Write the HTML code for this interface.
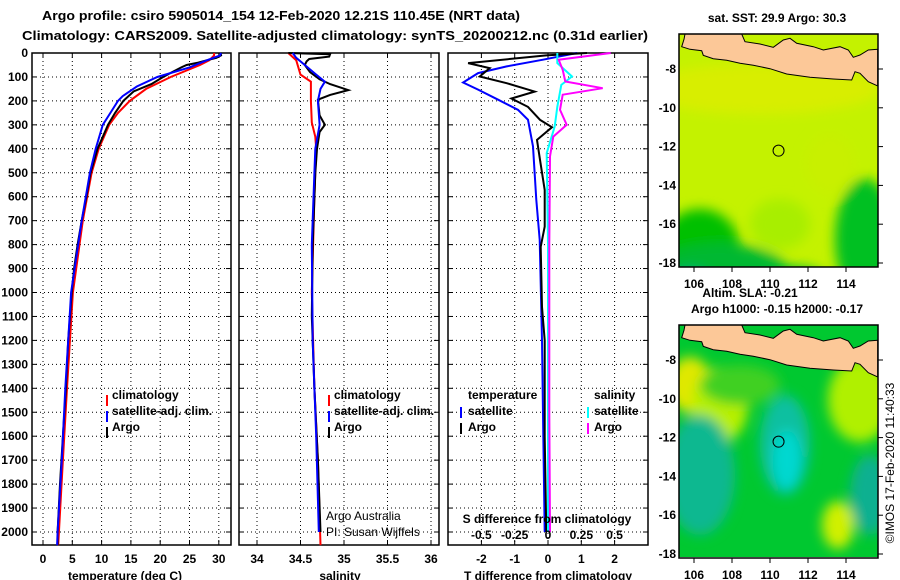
<!DOCTYPE html>
<html><head><meta charset="utf-8">
<style>
html,body{margin:0;padding:0;background:#fff;}
svg{display:block;font-family:"Liberation Sans",sans-serif;font-weight:bold;}
text{font-size:12px;fill:#000;}
</style></head>
<body>
<svg id="chart" width="900" height="580" viewBox="0 0 900 580" xmlns="http://www.w3.org/2000/svg">
<defs>
<filter id="blur" x="-20%" y="-20%" width="140%" height="140%"><feGaussianBlur stdDeviation="6"/></filter>
<clipPath id="clipTop"><rect x="679" y="34" width="199" height="233"/></clipPath>
<clipPath id="clipBot"><rect x="679" y="325" width="199" height="232"/></clipPath>
</defs>
<text x="42" y="20" textLength="478" lengthAdjust="spacingAndGlyphs" style="font-size:13px">Argo profile: csiro 5905014_154 12-Feb-2020 12.21S 110.45E (NRT data)</text>
<text x="22" y="40" textLength="626" lengthAdjust="spacingAndGlyphs" style="font-size:13px">Climatology: CARS2009. Satellite-adjusted climatology: synTS_20200212.nc (0.31d earlier)</text>
<g id="panels"></g>
<g id="maps"></g>
</svg>
<script>
// ---------- data ----------
const depthTicks = [0,100,200,300,400,500,600,700,800,900,1000,1100,1200,1300,1400,1500,1600,1700,1800,1900,2000];
const tempTicks = [0,5,10,15,20,25,30];
const salTicks = [34,34.5,35,35.5,36];
const tdiffTicks = [-2,-1,0,1,2];
const sdiffTicks = [-0.5,-0.25,0,0.25,0.5];
const sdiffTickLabels = ["-0.5","-0.25","0","0.25","0.5"];

const tArgoDepth = [0,10,20,30,40,50,60,80,100,130,160,200,250,300,350,400,500,600,700,800,900,1000,1100,1200,1400,1600,1800,2000,2055];
const tArgoVal   = [30.3,30.4,29.6,28,26.5,24.5,23.6,22,20.5,18.5,15.5,13.7,12.3,11.1,10.2,9.3,8.1,7.4,6.6,5.9,5.3,4.9,4.6,4.3,3.9,3.4,2.9,2.5,2.5];
const tClimDepth = [0,10,30,50,100,150,200,250,300,400,500,700,1000,1400,1700,2055];
const tClimVal   = [29.2,29.2,28.4,26.8,21.8,17.6,14.8,12.8,11.3,9.5,8.3,6.8,5.1,4.1,3.4,2.6];
const tSatDepth  = [0,10,30,60,100,140,180,200,250,300,400,500,700,1000,1400,1700,2000,2055];
const tSatVal    = [30.4,30.2,28,25,19.5,16,13.6,12.8,11.5,10.2,9,8,6.6,4.8,3.8,3.2,2.5,2.4];

const sArgoDepth = [0,5,15,25,35,50,80,110,130,155,175,195,260,300,330,400,500,800,1100,1400,1700,2000];
const sArgoVal   = [34.36,34.84,34.83,34.6,34.57,34.55,34.61,34.72,34.84,35.05,34.84,34.7,34.72,34.78,34.72,34.69,34.67,34.64,34.63,34.66,34.7,34.73];
const sClimDepth = [0,30,90,120,200,290,350,400,600,1000,1400,1700,2055];
const sClimVal   = [34.36,34.45,34.5,34.62,34.62,34.63,34.67,34.68,34.66,34.63,34.66,34.7,34.73];
const sSatDepth  = [0,20,50,90,120,150,200,300,400,500,800,1200,1400,1600,2000];
const sSatVal    = [34.41,34.45,34.55,34.68,34.78,34.73,34.7,34.72,34.67,34.66,34.63,34.64,34.66,34.68,34.71];

const dtSatDepth = [0,28,56,84,123,153,195,237,279,390,613,780,1200,1600,2000];
const dtSatVal   = [0.87,-0.15,-1.24,-2.1,-2.55,-2.1,-1.5,-0.9,-0.6,-0.45,-0.35,-0.25,-0.18,-0.14,-0.1];
const dtArgoDepth = [0,10,42,63,98,126,161,190,225,279,310,363,446,572,725,809,1060,1200,1600,2000];
const dtArgoVal   = [1.17,-0.05,-2.4,-1.75,-2.05,-1.24,-0.4,-1.1,-0.6,-0.24,0.12,-0.33,-0.24,-0.1,-0.1,-0.22,-0.18,-0.1,-0.1,-0.05];
const dsSatDepth = [0,42,98,133,225,307,418,800,1500,2000];
const dsSatVal   = [0.07,0.07,0.18,0.1,0.07,0.05,-0.01,0.0,0.0,0.0];
const dsArgoDepth = [0,28,70,119,147,174,237,300,349,432,800,1500,2000];
const dsArgoVal   = [0.47,0.08,0.11,0.13,0.41,0.11,0.09,0.14,0.04,0.015,0.01,0.01,0.015];

const lonTicks = [106,108,110,112,114];
const latTicks = [-8,-10,-12,-14,-16,-18];
const floatLon = 110.45, floatLat = -12.21;

// ---------- helpers ----------
const NS = "http://www.w3.org/2000/svg";
const gP = document.getElementById('panels');
const gM = document.getElementById('maps');
function mk(tag, attrs, parent){const e=document.createElementNS(NS,tag);for(const k in attrs)e.setAttribute(k,attrs[k]);(parent||gP).appendChild(e);return e;}
const yD = d => 53 + d*0.2395;
const PTOP = 53, PBOT = 545;
const xT = v => 43 + v*5.86;
const xS = v => 257 + (v-34)*87;
const xDT = v => 548 + v*33.3;
const xDS = v => 548 + v*133.3;

function panel(name, x0, x1, xfn, ticks, labels){
  const g = mk('g',{});
  
  
  depthTicks.forEach(d=>{ const l=mk('line',{x1:x0,x2:x1,y1:yD(d),y2:yD(d),stroke:'#000','stroke-width':1,'stroke-dasharray':'1,3'},g);
    
    
    mk('line',{x1:x0,x2:x0+5,y1:yD(d),y2:yD(d),stroke:'#000'},g);
    mk('line',{x1:x1-5,x2:x1,y1:yD(d),y2:yD(d),stroke:'#000'},g);});
  ticks.forEach((t,i)=>{ const x=xfn(t);
    const l=mk('line',{x1:x,x2:x,y1:PTOP,y2:PBOT,stroke:'#000','stroke-width':1,'stroke-dasharray':'1,3'},g);
    
    
    mk('line',{x1:x,x2:x,y1:PTOP,y2:PTOP+5,stroke:'#000'},g);
    mk('line',{x1:x,x2:x,y1:PBOT-5,y2:PBOT,stroke:'#000'},g);
    const tx=mk('text',{x:x,y:563,'text-anchor':'middle'},g); tx.textContent = labels? labels[i] : t;
    
    });
  const r=mk('rect',{x:x0,y:PTOP,width:x1-x0,height:PBOT-PTOP,fill:'none',stroke:'#000','stroke-width':1.5},g);
  
  
  return g;
}
function line(g, name, depths, vals, xfn, color){
  const pts = depths.map((d,i)=>xfn(vals[i]).toFixed(1)+','+yD(d).toFixed(1)).join(' ');
  const p = mk('polyline',{points:pts,fill:'none',stroke:color,'stroke-width':2},g);
  
  
}
function txt(g, name, x, y, s, opts){const t=mk('text',Object.assign({x:x,y:y},opts||{}),g);t.textContent=s;
  
  
  return t;}
function legMark(g,x,y,color){const l=mk('line',{x1:x,x2:x,y1:y-11,y2:y,stroke:color,'stroke-width':2},g);
  
  }

depthTicks.forEach(d=>{ txt(gP,'y-tick-label',28,yD(d)+4,String(d),{'text-anchor':'end'}); });

const g1 = panel('temperature-panel',32,231,xT,tempTicks);
line(g1,'temp-climatology-line',tClimDepth,tClimVal,xT,'#ff0000');
line(g1,'temp-argo-line',tArgoDepth,tArgoVal,xT,'#000000');
line(g1,'temp-satellite-line',tSatDepth,tSatVal,xT,'#0000ff');
txt(gP,'x-axis-title-temperature',125,580,'temperature (deg C)',{'text-anchor':'middle'});
legMark(g1,107,406,'#ff0000'); txt(g1,'legend-climatology',112,399,'climatology');
legMark(g1,107,422,'#0000ff'); txt(g1,'legend-satellite-adj',112,415,'satellite-adj. clim.');
legMark(g1,107,438,'#000'); txt(g1,'legend-argo',112,431,'Argo');

const g2 = panel('salinity-panel',239,439,xS,salTicks);
line(g2,'sal-climatology-line',sClimDepth,sClimVal,xS,'#ff0000');
line(g2,'sal-argo-line',sArgoDepth,sArgoVal,xS,'#000000');
line(g2,'sal-satellite-line',sSatDepth,sSatVal,xS,'#0000ff');
txt(gP,'x-axis-title-salinity',340,580,'salinity',{'text-anchor':'middle'});
legMark(g2,329,406,'#ff0000'); txt(g2,'legend-climatology',334,399,'climatology');
legMark(g2,329,422,'#0000ff'); txt(g2,'legend-satellite-adj',334,415,'satellite-adj. clim.');
legMark(g2,329,438,'#000'); txt(g2,'legend-argo',334,431,'Argo');
txt(g2,'credit-argo-australia',326,520,'Argo Australia',{style:'font-weight:normal'});
txt(g2,'credit-pi',326,536,'PI: Susan Wijffels',{style:'font-weight:normal'});

const g3 = panel('difference-panel',448,648,xDT,tdiffTicks);
line(g3,'tdiff-satellite-line',dtSatDepth,dtSatVal,xDT,'#0000ff');
line(g3,'tdiff-argo-line',dtArgoDepth,dtArgoVal,xDT,'#000000');
line(g3,'sdiff-satellite-line',dsSatDepth,dsSatVal,xDS,'#00ffff');
line(g3,'sdiff-argo-line',dsArgoDepth,dsArgoVal,xDS,'#ff00ff');
txt(gP,'x-axis-title-tdiff',548,580,'T difference from climatology',{'text-anchor':'middle'});
txt(g3,'sdiff-axis-title',547,523,'S difference from climatology',{'text-anchor':'middle'});
sdiffTicks.forEach((t,i)=>txt(g3,'sdiff-tick-label',xDS(t),539,sdiffTickLabels[i],{'text-anchor':'middle'}));
txt(g3,'legend-temperature-head',468,399,'temperature');
txt(g3,'legend-salinity-head',594,399,'salinity');
legMark(g3,461,418,'#0000ff'); txt(g3,'legend-t-satellite',468,415,'satellite');
legMark(g3,461,434,'#000'); txt(g3,'legend-t-argo',468,431,'Argo');
legMark(g3,588,418,'#00ffff'); txt(g3,'legend-s-satellite',594,415,'satellite');
legMark(g3,588,434,'#ff00ff'); txt(g3,'legend-s-argo',594,431,'Argo');

// ---------- maps ----------
const land = [[65,140],[72,118],[75,102],[245,102],[255,125],[300,132],[340,142],[370,120],[390,115],[410,130],[460,140],[490,150],[540,140],[565,150],[580,172],[600,165],[625,150],[653,148],[653,258],[625,245],[600,220],[585,215],[575,240],[520,237],[450,232],[380,222],[330,206],[280,196],[240,190],[200,181],[160,176],[130,166],[125,152],[90,148]];
function map(name, top, clip, blobs){
  const g=mk('g',{},gM);
  
  
  const mx = lon => 694 + (lon-106)*19;
  const my = lat => top + 35 + (-8-lat)*19.4;
  const inner = mk('g',{'clip-path':'url(#'+clip+')'},g);
  mk('rect',{x:679,y:top,width:199,height:233,fill:blobs.base},inner);
  const bl = mk('g',{filter:'url(#blur)'},inner);
  blobs.list.forEach(b=>{const e=mk('ellipse',{cx:b[0],cy:top+b[1],rx:b[2],ry:b[3],fill:b[4]},bl);
    
    });
  const pts = land.map(p=>(660+p[0]/3).toFixed(1)+','+(top-34+p[1]/3).toFixed(1)).join(' ');
  const lp=mk('polygon',{points:pts,fill:'#fcc898',stroke:'#000','stroke-width':1},inner);
  
  
  const fr=mk('rect',{x:679,y:top,width:199,height:233,fill:'none',stroke:'#000','stroke-width':1.5},g);
  
  
  lonTicks.forEach(l=>{mk('line',{x1:mx(l),x2:mx(l),y1:top+233,y2:top+238,stroke:'#000'},g);
    txt(g,'lon-tick-label',mx(l),top+254,String(l),{'text-anchor':'middle'});});
  latTicks.forEach(l=>{mk('line',{x1:878,x2:883,y1:my(l),y2:my(l),stroke:'#000'},g);
    txt(g,'lat-tick-label',676,my(l)+4,String(l),{'text-anchor':'end'});});
  const c=mk('circle',{cx:mx(floatLon),cy:my(floatLat),r:5.5,fill:'none',stroke:'#000','stroke-width':1},g);
  
  
}
map('sst-map',34,'clipTop',{base:'#c4f200',list:[
  [760,55,120,25,'#d8ee00'],[700,215,40,40,'#00c000'],[720,240,70,30,'#00b830'],[865,205,30,60,'#00c020'],
  [690,255,25,20,'#10b080'],[790,250,40,18,'#10c030'],[780,190,30,25,'#a8ee00'],[830,130,25,30,'#c8f000']]});
map('sla-map',325,'clipBot',{base:'#00c830',list:[
  [690,60,22,28,'#e0e800'],[720,80,28,38,'#b8f000'],[860,75,32,42,'#b0f000'],[838,200,16,24,'#d0f000'],
  [785,120,25,50,'#10c0a0'],[787,135,14,30,'#00d8d0'],[700,150,35,60,'#10b890'],[870,170,20,40,'#10b090'],
  [740,60,40,20,'#40d020']]});
txt(gM,'sst-map-title',777,22,'sat. SST: 29.9 Argo: 30.3',{'text-anchor':'middle'});
txt(gM,'sla-map-title-1',750,297,'Altim. SLA: -0.21',{'text-anchor':'middle'});
txt(gM,'sla-map-title-2',777,313,'Argo h1000: -0.15 h2000: -0.17',{'text-anchor':'middle'});
txt(gM,'imos-timestamp',0,0,'\u00A9IMOS 17-Feb-2020 11:40:33',{'text-anchor':'middle',transform:'translate(894,463) rotate(-90)',style:'font-weight:normal'});
</script>
</body></html>
